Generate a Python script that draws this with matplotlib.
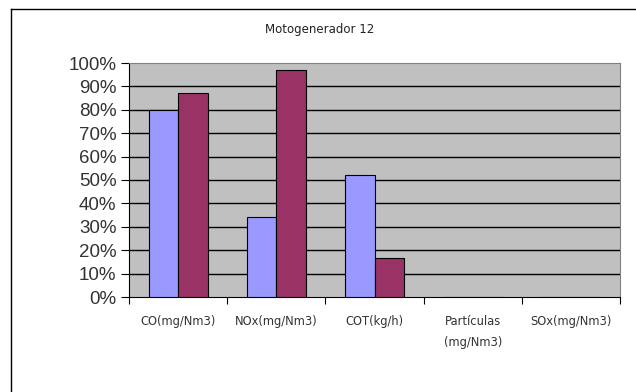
import matplotlib
matplotlib.use("Agg")
import matplotlib.pyplot as plt
import numpy as np
from matplotlib.lines import Line2D

plt.rcParams['font.family'] = ['Liberation Sans', 'DejaVu Sans']

categories = ["CO(mg/Nm3)", "NOx(mg/Nm3)", "COT(kg/h)", "Partículas\n(mg/Nm3)", "SOx(mg/Nm3)"]
serie1 = [0.80, 0.34, 0.52, 0, 0]
serie2 = [0.87, 0.97, 0.165, 0, 0]
title = "Motogenerador 12"

fig = plt.figure(figsize=(6.36, 3.92), dpi=100)
fig.patch.set_facecolor("white")
ax = fig.add_axes([129/636, 1-297/392, (620-129)/636, (297-63)/392])
ax.set_facecolor("#C0C0C0")

x = np.arange(len(categories))
w = 0.30
ax.bar(x - w/2, serie1, w, color="#9999FF", edgecolor="black", linewidth=0.8, zorder=3)
ax.bar(x + w/2, serie2, w, color="#993366", edgecolor="black", linewidth=0.8, zorder=3)

ax.set_xlim(-0.5, len(categories) - 0.5)
ax.set_ylim(0, 1.0)
yt = np.arange(0, 1.01, 0.1)
ax.set_yticks(yt)
ax.set_yticklabels([f"{int(round(v*100))}%" for v in yt], fontsize=13.5, color="#333333")
for v in yt[1:-1]:
    ax.axhline(v, color="black", linewidth=1.0, zorder=1)

ax.set_xticks(np.arange(-0.5, len(categories), 1.0))
ax.set_xticklabels([])
ax.set_xticks(x, minor=True)
ax.set_xticklabels(categories, minor=True, fontsize=8.3, color="#333333", linespacing=1.8,
                   family=['DejaVu Sans'])
ax.tick_params(axis="x", which="minor", length=0, pad=13)
ax.tick_params(axis="x", which="major", length=5, direction="out", color="black")
ax.tick_params(axis="y", length=6, direction="out", color="black", pad=3)

ax.spines["top"].set_color("#808080")
ax.spines["right"].set_color("#808080")
ax.spines["left"].set_color("black")
ax.spines["bottom"].set_color("black")

fig.text(320/636, 1-30/392, title, ha="center", va="center", fontsize=8.5, color="#222222",
         family=['DejaVu Sans'])

# outer chart frame
fig.add_artist(Line2D([11/636, 11/636], [0, 1-9/392], color="black", linewidth=1.0, transform=fig.transFigure))
fig.add_artist(Line2D([11/636, 1], [1-9/392, 1-9/392], color="black", linewidth=1.0, transform=fig.transFigure))

fig.savefig("out.png", dpi=100)
